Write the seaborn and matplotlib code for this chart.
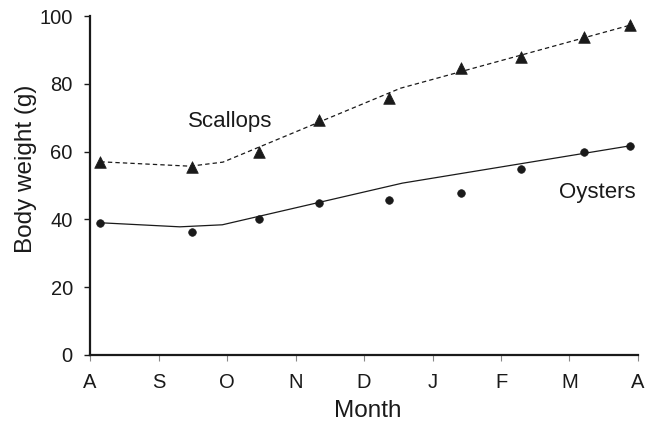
import numpy as np
import pandas as pd
import matplotlib
matplotlib.use("Agg")
import matplotlib.pyplot as plt
import seaborn as sns

# Month tick labels (August to April)
months = ["A", "S", "O", "N", "D", "J", "F", "M", "A"]

# Sampling times, in months since start of August
sample_x = [0.15, 1.49, 2.47, 3.34, 4.36, 5.42, 6.29, 7.21, 7.88]
scallop_obs = [57, 55.5, 59.8, 69.3, 75.8, 84.8, 87.9, 93.8, 97.3]
oyster_obs = [38.9, 36.2, 40.0, 44.8, 45.7, 47.8, 54.9, 59.9, 61.7]

# Fitted model lines
scallop_fit_x = [0.15, 1.46, 1.94, 4.53, 7.88]
scallop_fit_y = [57, 55.7, 56.9, 78.7, 97.3]
oyster_fit_x = [0.15, 1.31, 1.93, 4.56, 7.88]
oyster_fit_y = [39, 37.8, 38.4, 50.7, 61.7]

sns.set_style("ticks")
plt.rcParams['font.family'] = ['Liberation Sans', 'DejaVu Sans']

fig = plt.figure(figsize=(6.53, 4.24), dpi=100)
ax = fig.add_axes([0.138, 0.163, 0.839, 0.799])

ink = "#1a1a1a"

sns.lineplot(x=scallop_fit_x, y=scallop_fit_y, ax=ax, color=ink,
             linestyle=(0, (3.5, 2.5)), linewidth=0.9, sort=False)
sns.lineplot(x=oyster_fit_x, y=oyster_fit_y, ax=ax, color=ink,
             linewidth=0.9, sort=False)
sns.scatterplot(x=sample_x, y=scallop_obs, ax=ax, color=ink, marker="^",
                s=70, edgecolor=ink, linewidth=0.5, zorder=3)
sns.scatterplot(x=sample_x, y=oyster_obs, ax=ax, color=ink, marker="o",
                s=30, edgecolor=ink, linewidth=0.5, zorder=3)

ax.text(2.04, 69, "Scallops", fontsize=16, color=ink, ha="center", va="center")
ax.text(7.4, 48, "Oysters", fontsize=16, color=ink, ha="center", va="center")

ax.set_xlim(0, 8)
ax.set_ylim(0, 100)
ax.set_xticks(range(len(months)))
ax.set_xticklabels(months)
ax.set_yticks([0, 20, 40, 60, 80, 100])
ax.tick_params(axis="x", length=4, width=0.8, color="#888888",
               labelsize=14.5, labelcolor=ink, pad=9)
ax.tick_params(axis="y", length=4.5, width=1.0, color=ink,
               labelsize=14.5, labelcolor=ink, pad=8)
ax.set_xlabel("Month", fontsize=17.5, color=ink, labelpad=6, x=0.507)
ax.set_ylabel("Body weight (g)", fontsize=17.5, color=ink, labelpad=2, y=0.549)

for side in ["top", "right"]:
    ax.spines[side].set_visible(False)
for side in ["left", "bottom"]:
    ax.spines[side].set_linewidth(1.6)
    ax.spines[side].set_color(ink)

fig.savefig("out.png", dpi=100)
